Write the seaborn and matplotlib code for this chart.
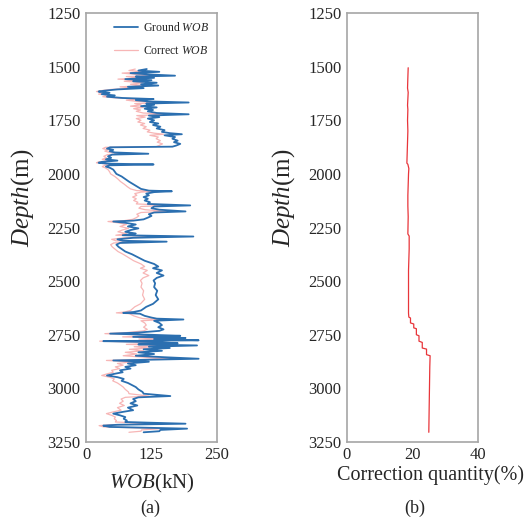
import matplotlib
matplotlib.use("Agg")
import matplotlib.pyplot as plt
import seaborn as sns
import pandas as pd

# Panel (a): depth (m) and WOB (kN)
depth = [
    1511, 1518, 1524, 1530, 1536, 1542, 1546, 1552, 1558, 1563,
    1568, 1575, 1582, 1588, 1594, 1600, 1606, 1612, 1616, 1622,
    1628, 1634, 1640, 1646, 1651, 1656, 1662, 1667, 1672, 1678,
    1684, 1690, 1696, 1702, 1708, 1716, 1722, 1728, 1735, 1742,
    1750, 1758, 1765, 1772, 1780, 1788, 1796, 1804, 1810, 1815,
    1820, 1828, 1836, 1845, 1852, 1860, 1868, 1873, 1876, 1882,
    1888, 1894, 1900, 1906, 1910, 1918, 1925, 1932, 1938, 1944,
    1948, 1952, 1956, 1960, 1966, 1972, 1980, 1990, 2000, 2012,
    2024, 2036, 2048, 2060, 2070, 2078, 2081, 2085, 2092, 2100,
    2108, 2116, 2124, 2132, 2140, 2147, 2152, 2160, 2167, 2175,
    2180, 2188, 2196, 2204, 2212, 2218, 2222, 2228, 2236, 2245,
    2254, 2262, 2270, 2278, 2286, 2292, 2298, 2305, 2312, 2316,
    2322, 2330, 2340, 2350, 2362, 2375, 2390, 2405, 2420, 2432,
    2440, 2450, 2462, 2474, 2485, 2497, 2510, 2528, 2545, 2565,
    2585, 2606, 2620, 2637, 2644, 2648, 2652, 2662, 2670, 2675,
    2679, 2685, 2695, 2705, 2715, 2725, 2732, 2740, 2745, 2750,
    2755, 2760, 2765, 2770, 2776, 2780, 2785, 2790, 2795, 2800,
    2806, 2812, 2818, 2825, 2832, 2840, 2848, 2855, 2862, 2867,
    2870, 2876, 2884, 2892, 2900, 2908, 2916, 2925, 2932, 2940,
    2948, 2956, 2965, 2975, 2985, 2994, 3005, 3017, 3025, 3036,
    3042, 3050, 3060, 3070, 3080, 3090, 3102, 3110, 3118, 3126,
    3134, 3142, 3150, 3157, 3165, 3170, 3174, 3180, 3188, 3194,
    3200, 3205,
]
ground_wob = [
    116, 100, 140, 85, 120, 170, 95, 130, 75, 125,
    90, 135, 105, 138, 80, 110, 60, 35, 24, 45,
    30, 55, 40, 70, 129, 95, 120, 196, 115, 130,
    105, 135, 112, 128, 118, 135, 196, 120, 140, 118,
    130, 122, 138, 128, 142, 135, 150, 145, 160, 183,
    150, 170, 165, 175, 168, 180, 172, 165, 46, 40,
    52, 45, 55, 119, 50, 42, 48, 38, 60, 30,
    24, 40, 129, 45, 38, 46, 52, 55, 58, 68,
    75, 82, 90, 98, 105, 120, 164, 130, 115, 120,
    110, 118, 112, 122, 118, 199, 130, 125, 140, 190,
    130, 120, 125, 118, 110, 90, 52, 75, 95, 80,
    100, 85, 75, 95, 70, 205, 90, 60, 70, 154,
    65, 58, 62, 68, 75, 88, 100, 112, 130, 138,
    128, 145, 135, 148, 135, 129, 132, 130, 136, 133,
    138, 128, 115, 105, 91, 71, 103, 112, 125, 135,
    186, 130, 140, 145, 138, 148, 140, 100, 46, 120,
    180, 90, 190, 130, 215, 33, 140, 175, 100, 212,
    120, 160, 110, 145, 100, 130, 95, 150, 215, 110,
    52, 120, 80, 95, 75, 85, 65, 70, 55, 40,
    60, 72, 68, 80, 88, 95, 100, 108, 110, 161,
    100, 90, 95, 85, 98, 80, 90, 70, 52, 65,
    75, 72, 78, 75, 190, 60, 33, 45, 193, 142,
    140, 110,
]
correct_wob = [
    94, 82, 113, 69, 97, 138, 77, 105, 61, 101,
    73, 109, 85, 112, 65, 89, 49, 28, 20, 36,
    24, 45, 32, 57, 105, 77, 97, 159, 93, 105,
    85, 109, 91, 104, 96, 109, 159, 97, 113, 96,
    105, 99, 112, 104, 115, 109, 122, 117, 130, 148,
    122, 138, 134, 142, 136, 146, 139, 134, 37, 32,
    42, 36, 45, 96, 41, 34, 39, 31, 49, 24,
    20, 32, 105, 36, 31, 37, 42, 45, 47, 55,
    61, 66, 73, 79, 85, 97, 133, 105, 93, 97,
    89, 96, 91, 99, 96, 161, 105, 101, 113, 154,
    105, 97, 101, 96, 89, 73, 42, 61, 77, 65,
    81, 69, 61, 77, 57, 166, 73, 49, 57, 125,
    53, 47, 50, 55, 61, 71, 81, 91, 105, 112,
    104, 117, 109, 120, 109, 104, 107, 105, 110, 108,
    112, 104, 93, 85, 74, 58, 83, 91, 101, 109,
    150, 105, 112, 115, 110, 117, 110, 79, 36, 94,
    141, 70, 148, 101, 167, 26, 109, 136, 77, 163,
    92, 121, 83, 110, 75, 97, 71, 112, 160, 82,
    39, 90, 60, 71, 56, 64, 49, 52, 41, 30,
    45, 54, 51, 60, 66, 71, 75, 81, 82, 120,
    75, 67, 71, 64, 73, 60, 67, 52, 39, 49,
    56, 54, 58, 56, 142, 45, 25, 34, 145, 106,
    105, 82,
]

# Panel (b): correction quantity (%)
corr_depth = [
    1505, 1550, 1600, 1620, 1680, 1700, 1750, 1800, 1850, 1900,
    1950, 1955, 1975, 2000, 2050, 2100, 2150, 2200, 2280, 2290,
    2350, 2400, 2450, 2500, 2550, 2600, 2650, 2668, 2672, 2695,
    2700, 2718, 2722, 2750, 2755, 2780, 2786, 2812, 2817, 2843,
    2848, 2900, 3000, 3100, 3205,
]
corr_pct = [
    18.7, 18.6, 18.5, 18.7, 18.5, 18.6, 18.5, 18.6, 18.5, 18.4,
    18.3, 18.6, 18.9, 18.8, 18.7, 18.6, 18.6, 18.7, 18.6, 19.0,
    19.0, 18.9, 18.8, 18.8, 18.8, 18.8, 18.8, 18.9, 19.4, 19.4,
    20.4, 20.4, 21.2, 21.2, 22.0, 22.0, 23.0, 23.0, 24.3, 24.3,
    25.4, 25.3, 25.2, 25.1, 25.0,
]

depth_ticks = [1250, 1500, 1750, 2000, 2250, 2500, 2750, 3000, 3250]

sns.set_style("white")
plt.rcParams["font.family"] = ["Liberation Serif", "DejaVu Serif"]
plt.rcParams["mathtext.fontset"] = "custom"
plt.rcParams["mathtext.rm"] = "Liberation Serif"
plt.rcParams["mathtext.it"] = "Liberation Serif:italic"

wob_df = pd.DataFrame({"depth": depth, "ground": ground_wob, "correct": correct_wob})
corr_df = pd.DataFrame({"depth": corr_depth, "pct": corr_pct})

fig = plt.figure(figsize=(5.3, 5.23), dpi=100)
ax_a = fig.add_axes([0.1623, 0.155, 0.247, 0.820])
ax_b = fig.add_axes([0.6547, 0.155, 0.247, 0.820])

sns.lineplot(data=wob_df, x="correct", y="depth", orient="y", sort=False, estimator=None,
             color="#f7b6b6", lw=0.9, ax=ax_a, label=r"Correct $\mathit{WOB}$", zorder=2)
sns.lineplot(data=wob_df, x="ground", y="depth", orient="y", sort=False, estimator=None,
             color="#2b6fb0", lw=1.3, ax=ax_a, label=r"Ground $\mathit{WOB}$", zorder=3)
sns.lineplot(data=corr_df, x="pct", y="depth", orient="y", sort=False, estimator=None,
             color="#e8353a", lw=0.9, ax=ax_b)

handles, labels = ax_a.get_legend_handles_labels()
ax_a.legend(handles[::-1], labels[::-1], loc="upper right", frameon=False, fontsize=8.5,
            handlelength=2.0, handletextpad=0.4, borderaxespad=0.3, labelspacing=0.9)

for ax, xmax, xticks in [(ax_a, 250, [0, 125, 250]), (ax_b, 40, [0, 20, 40])]:
    ax.set_xlim(0, xmax)
    ax.set_xticks(xticks)
    ax.set_ylim(3250, 1250)
    ax.set_yticks(depth_ticks)
    for sp in ax.spines.values():
        sp.set_color("#a6a6a6")
        sp.set_linewidth(1.2)
    ax.tick_params(axis="both", which="major", direction="out", length=3, width=1,
                   color="#a6a6a6", labelsize=12, pad=1)
    ax.set_ylabel(r"$\mathit{Depth}$(m)", fontsize=18, labelpad=2)
    ax.yaxis.set_label_coords(-0.38, 0.57)

ax_a.set_xlabel(r"$\mathit{WOB}$(kN)", fontsize=15, labelpad=6)
ax_b.set_xlabel("Correction quantity(%)", fontsize=14.5, labelpad=4)
ax_b.xaxis.set_label_coords(0.64, -0.055)

fig.text(0.283, 0.028, "(a)", ha="center", va="center", fontsize=13)
fig.text(0.783, 0.028, "(b)", ha="center", va="center", fontsize=13)

fig.savefig("out.png", dpi=100)
